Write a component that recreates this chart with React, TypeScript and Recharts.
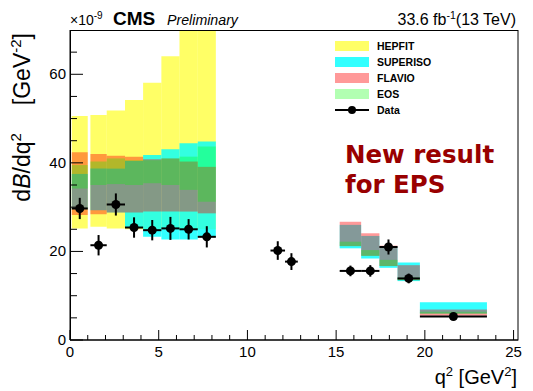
import { ComposedChart, Scatter, ErrorBar, XAxis, YAxis, ReferenceArea, Legend } from 'recharts'

// q2 bin edges as drawn against the axis [GeV^2]
const binLo = [0.1, 1.15, 2.07, 3.1, 4.12, 5.15, 6.17, 7.2, 11.3, 12.12, 15.2, 16.41, 17.44, 18.46, 19.72]
const binHi = [1.0, 2.07, 3.1, 4.12, 5.15, 6.17, 7.2, 8.22, 12.12, 12.84, 16.41, 17.44, 18.46, 19.72, 23.5]

// measured dB/dq2 (x 1e-9)
const dataVal = [29.7, 21.4, 30.6, 25.4, 24.8, 25.2, 25.0, 23.3, 20.2, 17.7, 15.6, 15.6, 21.0, 13.9, 5.3]
const dataErr = [2.4, 2.3, 2.5, 2.3, 2.3, 2.6, 2.3, 2.4, 2.1, 1.9, 1.2, 1.3, 1.7, 1.1, 0.5]

// theory bands, null where no prediction
const hepfitLo = [25.2, 25.6, 25.2, 25, 25, 25, 25, 25, null, null, null, null, null, null, null]
const hepfitHi = [50.6, 50.8, 51.8, 54.2, 58.1, 64.1, 73, 78, null, null, null, null, null, null, null]
const superisoLo = [29.5, 29.3, 28.8, 25.3, 23.3, 22.7, 22.7, 23.2, null, null, 20.7, 18.4, 16.3, 13.3, 6.0]
const superisoHi = [37.5, 38.7, 38.7, 40.4, 41.8, 43.1, 44.4, 44.8, null, null, 26.0, 23.5, 21.1, 17.5, 8.5]
const flavioLo = [28.2, 28.4, 28.8, 28.8, 29, 29, 29, 28.6, null, null, 21.2, 19.0, 16.7, 13.5, 5.5]
const flavioHi = [42.4, 42, 41.6, 41.4, 40.8, 41, 40.3, 39.1, null, null, 26.7, 24.1, 21.3, 16.9, 6.9]
const eosLo = [34.2, 35, 35.2, 35, 35.4, 35, 33.9, 31.2, null, null, 21.2, 19.0, 16.7, 13.5, 5.9]
const eosHi = [39.5, 40.3, 41, 40.6, 40.6, 41, 41.4, 43.7, null, null, 22.2, 20.3, 18.1, 14.1, 6.4]

const xTicks = Array.from({ length: 26 }, (_, i) => i)
const yTicks = [0, 5, 10, 15, 20, 25, 30, 35, 40, 45, 50, 55, 60, 65]

const FONT = "'Liberation Sans', Arial, sans-serif"

const models = [
  { name: 'HEPFIT', color: '#ffff00', opacity: 0.6, lo: hepfitLo, hi: hepfitHi },
  { name: 'SUPERISO', color: '#00ffff', opacity: 0.8, lo: superisoLo, hi: superisoHi },
  { name: 'FLAVIO', color: '#ff0000', opacity: 0.4, lo: flavioLo, hi: flavioHi },
  { name: 'EOS', color: '#00ff00', opacity: 0.3, lo: eosLo, hi: eosHi },
]

const points = binLo.map((lo, i) => {
  const x = (lo + binHi[i]) / 2
  return { x, y: dataVal[i], ex: [x - lo, binHi[i] - x], ey: dataErr[i] }
})

const XTick = (props: any) => {
  const { x, y, payload } = props
  const v = payload.value
  const major = v % 5 === 0
  return (
    <g>
      <line x1={x} x2={x} y1={y} y2={y - (major ? 10 : 5)} stroke='#000' />
      {major && (
        <text x={x} y={y + 17} textAnchor='middle' fontSize={15} fontFamily={FONT} fill='#000'>
          {v}
        </text>
      )}
    </g>
  )
}

const YTick = (props: any) => {
  const { x, y, payload } = props
  const v = payload.value
  const major = v % 20 === 0
  return (
    <g>
      <line x1={x} x2={x + (major ? 13 : 7)} y1={y} y2={y} stroke='#000' />
      {major && (
        <text x={x - 4} y={y + 5} textAnchor='end' fontSize={15} fontFamily={FONT} fill='#000'>
          {v}
        </text>
      )}
    </g>
  )
}

const LegendBox = () => (
  <div style={{ fontFamily: FONT, fontWeight: 'bold', fontSize: 10.5, color: '#000' }}>
    {models.map((m) => (
      <div key={m.name} style={{ display: 'flex', alignItems: 'center', height: 16 }}>
        <div style={{ width: 34, height: 10, background: m.color, opacity: m.opacity, marginRight: 8 }} />
        <span>{m.name}</span>
      </div>
    ))}
    <div style={{ display: 'flex', alignItems: 'center', height: 16 }}>
      <svg width={34} height={10} style={{ marginRight: 8 }}>
        <line x1={0} x2={34} y1={5} y2={5} stroke='#000' strokeWidth={2} />
        <circle cx={17} cy={5} r={4} fill='#000' />
      </svg>
      <span>Data</span>
    </div>
  </div>
)

const Dot = (props: any) => <circle cx={props.cx} cy={props.cy} r={4.5} fill='#000' />

export default function App() {
  return (
    <div style={{ position: 'absolute', left: 0, top: 0, width: 533, height: 391, background: '#fff' }}>
      <ComposedChart width={533} height={391} margin={{ top: 30, right: 15, bottom: 21, left: 0 }}>
        <XAxis
          type='number'
          dataKey='x'
          domain={[0, 25.25]}
          ticks={xTicks}
          interval={0}
          allowDataOverflow
          height={30}
          tickSize={0}
          tickMargin={0}
          tickLine={false}
          axisLine={{ stroke: '#000' }}
          tick={<XTick />}
        />
        <YAxis
          type='number'
          dataKey='y'
          domain={[0, 70]}
          ticks={yTicks}
          interval={0}
          allowDataOverflow
          width={70}
          tickSize={0}
          tickMargin={0}
          tickLine={false}
          axisLine={{ stroke: '#000' }}
          tick={<YTick />}
        />
        {models.map((m) =>
          binLo.map((lo, i) =>
            m.lo[i] == null ? null : (
              <ReferenceArea
                key={m.name + i}
                x1={lo}
                x2={binHi[i]}
                y1={m.lo[i] as number}
                y2={m.hi[i] as number}
                fill={m.color}
                fillOpacity={m.opacity}
                stroke='none'
                ifOverflow='hidden'
              />
            ),
          ),
        )}
        <Scatter data={points} dataKey='y' shape={<Dot />} isAnimationActive={false}>
          <ErrorBar dataKey='ex' direction='x' width={0} stroke='#000' strokeWidth={2} />
          <ErrorBar dataKey='ey' direction='y' width={0} stroke='#000' strokeWidth={2} />
        </Scatter>
        <Legend
          layout='horizontal'
          verticalAlign='middle'
          align='center'
          content={<LegendBox />}
          wrapperStyle={{ position: 'absolute', left: 335, top: 37.5, width: 170, height: 82 }}
        />
      </ComposedChart>
      <svg
        width={533}
        height={391}
        style={{ position: 'absolute', left: 0, top: 0, pointerEvents: 'none' }}
        fontFamily={FONT}
      >
        <rect x={70.5} y={30.5} width={447.5} height={309.5} fill='none' stroke='#000' />
        <text x={70} y={25} fontSize={14}>
          ×10<tspan dy={-6} fontSize={10}>-9</tspan>
        </text>
        <text x={113} y={25} fontSize={19} fontWeight='bold'>CMS</text>
        <text x={167} y={25} fontSize={14.2} fontStyle='italic'>Preliminary</text>
        <text x={516} y={25} fontSize={16} textAnchor='end'>
          33.6 fb<tspan dy={-6} fontSize={10.5}>-1</tspan><tspan dy={6}>(13 TeV)</tspan>
        </text>
        <text transform='rotate(-90)' x={-33} y={30} fontSize={23} textAnchor='end'>
          d<tspan fontStyle='italic'>B</tspan>/dq<tspan dy={-9} fontSize={15}>2</tspan>
          <tspan dy={9} dx={28}>[GeV</tspan>
          <tspan dy={-9} fontSize={15}>-2</tspan>
          <tspan dy={9}>]</tspan>
        </text>
        <text x={517} y={384} fontSize={20} textAnchor='end'>
          q<tspan dy={-8} fontSize={13}>2</tspan>
          <tspan dy={8}> [GeV</tspan>
          <tspan dy={-8} fontSize={13}>2</tspan>
          <tspan dy={8}>]</tspan>
        </text>
        <g fill='#990000' fontWeight='bold' fontSize={24.5} fontFamily="'DejaVu Sans', sans-serif">
          <text x={345} y={163}>New result</text>
          <text x={345} y={193}>for EPS</text>
        </g>
      </svg>
    </div>
  )
}
